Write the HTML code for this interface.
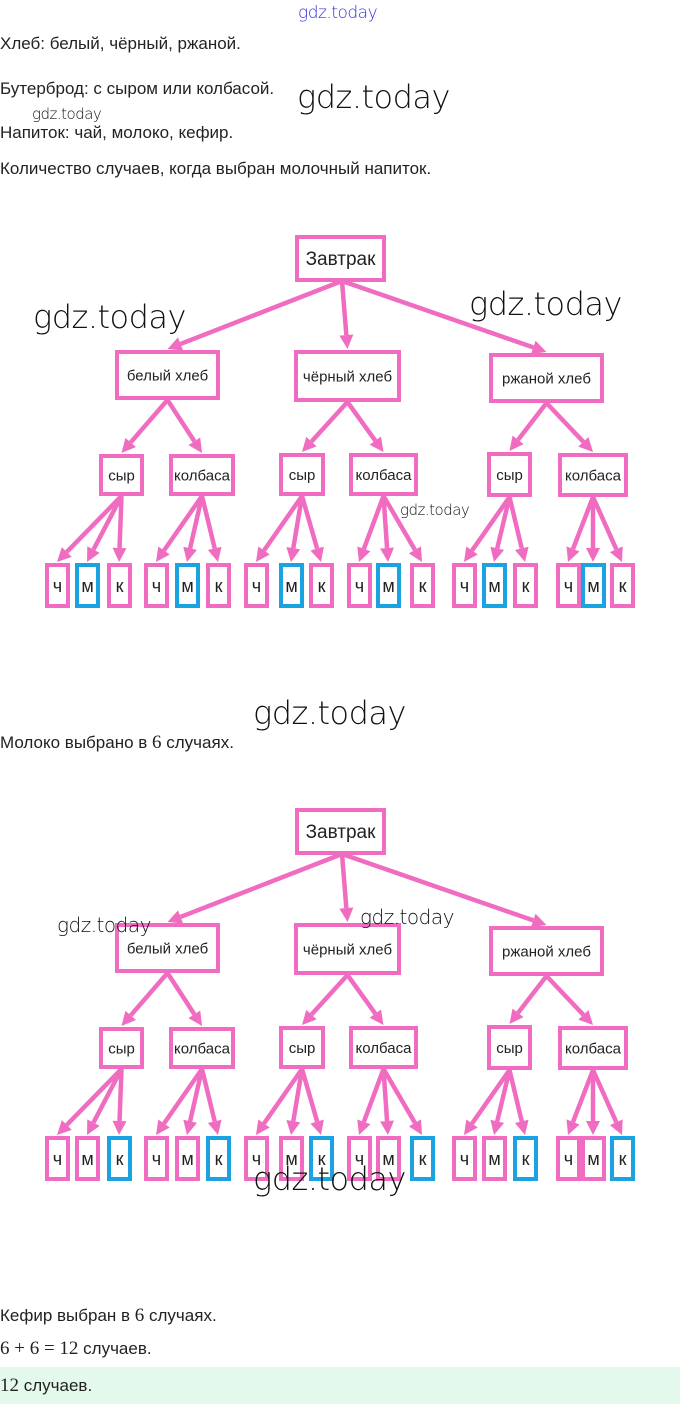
<!DOCTYPE html>
<html><head><meta charset="utf-8">
<style>
body{margin:0;width:680px;height:1404px;background:#fff;position:relative;overflow:hidden;font-family:"Liberation Sans",sans-serif;color:#222}
.t{position:absolute;left:0;font-size:17px;white-space:nowrap}
.w{position:absolute;font-family:"DejaVu Sans","Liberation Sans",sans-serif;font-weight:200;color:#111;white-space:nowrap;letter-spacing:-0.5px}
.m{font-family:"Liberation Serif",serif;font-size:19px}
svg{position:absolute;left:0;top:0}
</style></head><body>
<svg id="s" width="680" height="1404" viewBox="0 0 680 1404"></svg>
<div class="w" style="left:298px;top:3px;font-size:17px;color:#3333dd">gdz.today</div>
<div class="t" style="top:34px">Хлеб: белый, чёрный, ржаной.</div>
<div class="t" style="top:79px">Бутерброд: с сыром или колбасой.</div>
<div class="w" style="left:297px;top:78px;font-size:32px">gdz.today</div>
<div class="w" style="left:32px;top:105px;font-size:15px">gdz.today</div>
<div class="t" style="top:123px">Напиток: чай, молоко, кефир.</div>
<div class="t" style="top:159px">Количество случаев, когда выбран молочный напиток.</div>
<div class="w" style="left:33px;top:298px;font-size:32px">gdz.today</div>
<div class="w" style="left:469px;top:285px;font-size:32px">gdz.today</div>
<div class="w" style="left:400px;top:501px;font-size:15px">gdz.today</div>
<div class="w" style="left:253px;top:694px;font-size:32px">gdz.today</div>
<div class="t" style="top:732px">Молоко выбрано в <span class="m">6</span> случаях.</div>
<div class="w" style="left:57px;top:913px;font-size:20px">gdz.today</div>
<div class="w" style="left:360px;top:905px;font-size:20px">gdz.today</div>
<div class="w" style="left:253px;top:1160px;font-size:32px">gdz.today</div>
<div class="t" style="top:1305px">Кефир выбран в <span class="m">6</span> случаях.</div>
<div class="t" style="top:1338px"><span class="m">6 + 6 = 12</span> случаев.</div>
<div style="position:absolute;left:0;top:1367px;width:680px;height:37px;background:#e3f9ec"></div>
<div class="t" style="top:1375px"><span class="m">12</span> случаев.</div>
<script>
var P='#f06cc0',B='#1aa3e0',S=document.getElementById('s'),h='';
function box(x1,y1,x2,y2,c,txt,fs){h+='<rect x="'+x1+'" y="'+y1+'" width="'+(x2-x1)+'" height="'+(y2-y1)+'" fill="#fff" stroke="'+c+'" stroke-width="4"/>';
h+='<text x="'+((x1+x2)/2)+'" y="'+((y1+y2)/2+fs*0.35)+'" font-size="'+fs+'" text-anchor="middle" font-family="Liberation Sans, sans-serif" fill="#222">'+txt+'</text>';}
function arr(x1,y1,x2,y2){var dx=x2-x1,dy=y2-y1,L=Math.hypot(dx,dy),ux=dx/L,uy=dy/L,al=14,aw=7;
var bx=x2-ux*al,by=y2-uy*al;h+='<line x1="'+x1+'" y1="'+y1+'" x2="'+bx+'" y2="'+by+'" stroke="'+P+'" stroke-width="4.5"/>';
h+='<polygon points="'+x2+','+y2+' '+(bx-uy*aw)+','+(by+ux*aw)+' '+(bx+uy*aw)+','+(by-ux*aw)+'" fill="'+P+'"/>';}
function tree(o,blue){
var top=[297,237+o,384,280+o];
var L2=[[117,352,218,398,'белый хлеб'],[296,352,399,400,'чёрный хлеб'],[491,355,602,401,'ржаной хлеб']];
var L3=[[101,456,142,494,'сыр'],[171,456,233,494,'колбаса'],[281,455,323,494,'сыр'],[351,455,416,494,'колбаса'],[489,454,530,495,'сыр'],[560,455,626,495,'колбаса']];
var lx=[47,77,109,146,177,208,246,281,311,349,378,412,454,484,515,558,583,612];
L2.forEach(function(b){arr(342,281+o,(b[0]+b[2])/2,b[1]+o-3);});
L3.forEach(function(b,i){var p=L2[Math.floor(i/2)];arr((p[0]+p[2])/2,p[3]+o+2,(b[0]+b[2])/2,b[1]+o-3);});
lx.forEach(function(x,i){var p=L3[Math.floor(i/3)];arr((p[0]+p[2])/2,p[3]+o+2,x+10,565+o-3);});
box(top[0],top[1],top[2],top[3],P,'Завтрак',19);
L2.forEach(function(b){box(b[0],b[1]+o,b[2],b[3]+o,P,b[4],15);});
L3.forEach(function(b){box(b[0],b[1]+o,b[2],b[3]+o,P,b[4],15);});
var lt=['ч','м','к'];
lx.forEach(function(x,i){box(x,565+o,x+21,606+o,(i%3==blue)?B:P,lt[i%3],18);});}
tree(0,1);tree(573,2);
S.innerHTML=h;
</script>
</body></html>
